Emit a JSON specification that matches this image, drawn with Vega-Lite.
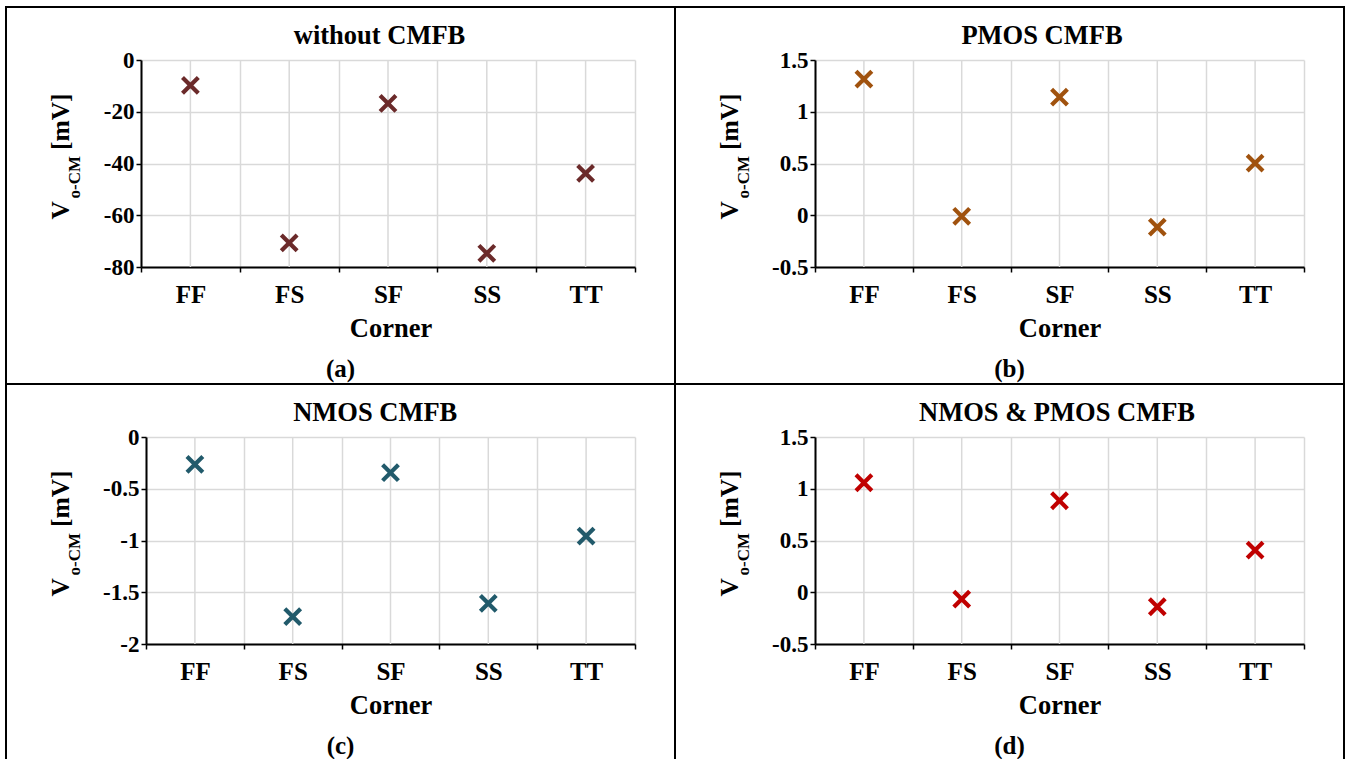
{
  "$schema": "https://vega.github.io/schema/vega-lite/v6.json",
  "background": "white",
  "padding": {"left": 5, "top": 6, "right": 0, "bottom": 0},
  "datasets": {
    "a": [
      {"corner": "FF", "v": -9.8},
      {"corner": "FS", "v": -70.7},
      {"corner": "SF", "v": -16.8},
      {"corner": "SS", "v": -74.7},
      {"corner": "TT", "v": -43.8}
    ],
    "b": [
      {"corner": "FF", "v": 1.315},
      {"corner": "FS", "v": -0.01},
      {"corner": "SF", "v": 1.142},
      {"corner": "SS", "v": -0.115},
      {"corner": "TT", "v": 0.503}
    ],
    "c": [
      {"corner": "FF", "v": -0.264},
      {"corner": "FS", "v": -1.735},
      {"corner": "SF", "v": -0.345},
      {"corner": "SS", "v": -1.607},
      {"corner": "TT", "v": -0.958}
    ],
    "d": [
      {"corner": "FF", "v": 1.058},
      {"corner": "FS", "v": -0.066},
      {"corner": "SF", "v": 0.884},
      {"corner": "SS", "v": -0.14},
      {"corner": "TT", "v": 0.407}
    ]
  },
  "concat": [
    {
      "width": 669, "height": 377,
      "title": {"text": "(a)"},
      "data": {"name": "a"},
      "layer": [
        {
          "mark": {"type": "rule", "color": "#d9d9d9", "strokeWidth": 1.5},
          "encoding": {
            "x": {"field": "corner", "type": "nominal",
              "scale": {"domain": ["FF", "FS", "SF", "SS", "TT"], "range": [135, 629], "paddingInner": 0, "paddingOuter": 0},
              "axis": {"orient": "top", "offset": -53, "grid": true, "tickBand": "extent", "labels": false, "ticks": false, "domain": false,
                "title": "without CMFB", "titleX": 373, "titleY": -17, "titleAlign": "center", "titleBaseline": "alphabetic", "titleAngle": 0, "titleFontSize": 26.5}},
            "y": {"datum": 0, "type": "quantitative",
              "scale": {"domain": [-80, 0], "range": [260, 53], "nice": false, "zero": false},
              "axis": {"orient": "left", "offset": -135, "grid": false, "labels": false, "ticks": false, "domain": false,
                "title": "o-CM", "titleX": -62, "titleY": 191, "titleAngle": -90, "titleAlign": "left", "titleBaseline": "alphabetic", "titleFontSize": 17}},
            "y2": {"datum": -80}
          }
        },
        {
          "mark": {"type": "point", "shape": "M-1,-1L1,1M-1,1L1,-1", "filled": false, "size": 250, "strokeWidth": 4.2, "opacity": 1, "color": "#6B2A2A"},
          "encoding": {
            "x": {"field": "corner", "type": "nominal",
              "scale": {"domain": ["FF", "FS", "SF", "SS", "TT"], "range": [135, 629], "paddingInner": 0, "paddingOuter": 0},
              "axis": {"orient": "bottom", "offset": -117, "grid": false, "tickBand": "extent", "labelFontSize": 25, "labelPadding": 30, "labelBaseline": "alphabetic", "labelAngle": 0,
                "title": "Corner", "titleX": 384.5, "titleY": 69, "titleAlign": "center", "titleBaseline": "alphabetic", "titleAngle": 0, "titleFontSize": 26.5}},
            "y": {"field": "v", "type": "quantitative",
              "scale": {"domain": [-80, 0], "range": [260, 53], "nice": false, "zero": false},
              "axis": {"orient": "left", "offset": -135, "grid": true, "values": [-80, -60, -40, -20, 0], "labelExpr": "toString(datum.value)", "labelFontSize": 23, "labelPadding": 2,
                "title": "V\u00a0\u00a0\u00a0\u00a0\u00a0\u00a0\u00a0\u00a0[mV]", "titleX": -73, "titleY": 212, "titleAngle": -90, "titleAlign": "left", "titleBaseline": "alphabetic", "titleFontSize": 25.5}}
          }
        }
      ],
      "resolve": {"axis": {"x": "independent", "y": "independent"}}
    },
    {
      "width": 669, "height": 377,
      "title": {"text": "(b)"},
      "data": {"name": "b"},
      "layer": [
        {
          "mark": {"type": "rule", "color": "#d9d9d9", "strokeWidth": 1.5},
          "encoding": {
            "x": {"field": "corner", "type": "nominal",
              "scale": {"domain": ["FF", "FS", "SF", "SS", "TT"], "range": [140, 629], "paddingInner": 0, "paddingOuter": 0},
              "axis": {"orient": "top", "offset": -53, "grid": true, "tickBand": "extent", "labels": false, "ticks": false, "domain": false,
                "title": "PMOS CMFB", "titleX": 366.5, "titleY": -17, "titleAlign": "center", "titleBaseline": "alphabetic", "titleAngle": 0, "titleFontSize": 26.5}},
            "y": {"datum": 1.5, "type": "quantitative",
              "scale": {"domain": [-0.5, 1.5], "range": [260, 53], "nice": false, "zero": false},
              "axis": {"orient": "left", "offset": -140, "grid": false, "labels": false, "ticks": false, "domain": false,
                "title": "o-CM", "titleX": -67, "titleY": 191, "titleAngle": -90, "titleAlign": "left", "titleBaseline": "alphabetic", "titleFontSize": 17}},
            "y2": {"datum": -0.5}
          }
        },
        {
          "mark": {"type": "point", "shape": "M-1,-1L1,1M-1,1L1,-1", "filled": false, "size": 250, "strokeWidth": 4.2, "opacity": 1, "color": "#A0520E"},
          "encoding": {
            "x": {"field": "corner", "type": "nominal",
              "scale": {"domain": ["FF", "FS", "SF", "SS", "TT"], "range": [140, 629], "paddingInner": 0, "paddingOuter": 0},
              "axis": {"orient": "bottom", "offset": -117, "grid": false, "tickBand": "extent", "labelFontSize": 25, "labelPadding": 30, "labelBaseline": "alphabetic", "labelAngle": 0,
                "title": "Corner", "titleX": 384.5, "titleY": 69, "titleAlign": "center", "titleBaseline": "alphabetic", "titleAngle": 0, "titleFontSize": 26.5}},
            "y": {"field": "v", "type": "quantitative",
              "scale": {"domain": [-0.5, 1.5], "range": [260, 53], "nice": false, "zero": false},
              "axis": {"orient": "left", "offset": -140, "grid": true, "values": [-0.5, 0, 0.5, 1, 1.5], "labelExpr": "toString(datum.value)", "labelFontSize": 23, "labelPadding": 2,
                "title": "V\u00a0\u00a0\u00a0\u00a0\u00a0\u00a0\u00a0\u00a0[mV]", "titleX": -78, "titleY": 212, "titleAngle": -90, "titleAlign": "left", "titleBaseline": "alphabetic", "titleFontSize": 25.5}}
          }
        }
      ],
      "resolve": {"axis": {"x": "independent", "y": "independent"}}
    },
    {
      "width": 669, "height": 377,
      "title": {"text": "(c)"},
      "data": {"name": "c"},
      "layer": [
        {
          "mark": {"type": "rule", "color": "#d9d9d9", "strokeWidth": 1.5},
          "encoding": {
            "x": {"field": "corner", "type": "nominal",
              "scale": {"domain": ["FF", "FS", "SF", "SS", "TT"], "range": [140, 629], "paddingInner": 0, "paddingOuter": 0},
              "axis": {"orient": "top", "offset": -53, "grid": true, "tickBand": "extent", "labels": false, "ticks": false, "domain": false,
                "title": "NMOS CMFB", "titleX": 368.7, "titleY": -17, "titleAlign": "center", "titleBaseline": "alphabetic", "titleAngle": 0, "titleFontSize": 26.5}},
            "y": {"datum": 0, "type": "quantitative",
              "scale": {"domain": [-2, 0], "range": [260, 53], "nice": false, "zero": false},
              "axis": {"orient": "left", "offset": -140, "grid": false, "labels": false, "ticks": false, "domain": false,
                "title": "o-CM", "titleX": -67, "titleY": 191, "titleAngle": -90, "titleAlign": "left", "titleBaseline": "alphabetic", "titleFontSize": 17}},
            "y2": {"datum": -2}
          }
        },
        {
          "mark": {"type": "point", "shape": "M-1,-1L1,1M-1,1L1,-1", "filled": false, "size": 250, "strokeWidth": 4.2, "opacity": 1, "color": "#215A6B"},
          "encoding": {
            "x": {"field": "corner", "type": "nominal",
              "scale": {"domain": ["FF", "FS", "SF", "SS", "TT"], "range": [140, 629], "paddingInner": 0, "paddingOuter": 0},
              "axis": {"orient": "bottom", "offset": -117, "grid": false, "tickBand": "extent", "labelFontSize": 25, "labelPadding": 30, "labelBaseline": "alphabetic", "labelAngle": 0,
                "title": "Corner", "titleX": 384.5, "titleY": 69, "titleAlign": "center", "titleBaseline": "alphabetic", "titleAngle": 0, "titleFontSize": 26.5}},
            "y": {"field": "v", "type": "quantitative",
              "scale": {"domain": [-2, 0], "range": [260, 53], "nice": false, "zero": false},
              "axis": {"orient": "left", "offset": -140, "grid": true, "values": [-2, -1.5, -1, -0.5, 0], "labelExpr": "toString(datum.value)", "labelFontSize": 23, "labelPadding": 2,
                "title": "V\u00a0\u00a0\u00a0\u00a0\u00a0\u00a0\u00a0\u00a0[mV]", "titleX": -78, "titleY": 212, "titleAngle": -90, "titleAlign": "left", "titleBaseline": "alphabetic", "titleFontSize": 25.5}}
          }
        }
      ],
      "resolve": {"axis": {"x": "independent", "y": "independent"}}
    },
    {
      "width": 669, "height": 377,
      "title": {"text": "(d)"},
      "data": {"name": "d"},
      "layer": [
        {
          "mark": {"type": "rule", "color": "#d9d9d9", "strokeWidth": 1.5},
          "encoding": {
            "x": {"field": "corner", "type": "nominal",
              "scale": {"domain": ["FF", "FS", "SF", "SS", "TT"], "range": [140, 629], "paddingInner": 0, "paddingOuter": 0},
              "axis": {"orient": "top", "offset": -53, "grid": true, "tickBand": "extent", "labels": false, "ticks": false, "domain": false,
                "title": "NMOS & PMOS CMFB", "titleX": 381.5, "titleY": -17, "titleAlign": "center", "titleBaseline": "alphabetic", "titleAngle": 0, "titleFontSize": 26.5}},
            "y": {"datum": 1.5, "type": "quantitative",
              "scale": {"domain": [-0.5, 1.5], "range": [260, 53], "nice": false, "zero": false},
              "axis": {"orient": "left", "offset": -140, "grid": false, "labels": false, "ticks": false, "domain": false,
                "title": "o-CM", "titleX": -67, "titleY": 191, "titleAngle": -90, "titleAlign": "left", "titleBaseline": "alphabetic", "titleFontSize": 17}},
            "y2": {"datum": -0.5}
          }
        },
        {
          "mark": {"type": "point", "shape": "M-1,-1L1,1M-1,1L1,-1", "filled": false, "size": 250, "strokeWidth": 4.2, "opacity": 1, "color": "#C00000"},
          "encoding": {
            "x": {"field": "corner", "type": "nominal",
              "scale": {"domain": ["FF", "FS", "SF", "SS", "TT"], "range": [140, 629], "paddingInner": 0, "paddingOuter": 0},
              "axis": {"orient": "bottom", "offset": -117, "grid": false, "tickBand": "extent", "labelFontSize": 25, "labelPadding": 30, "labelBaseline": "alphabetic", "labelAngle": 0,
                "title": "Corner", "titleX": 384.5, "titleY": 69, "titleAlign": "center", "titleBaseline": "alphabetic", "titleAngle": 0, "titleFontSize": 26.5}},
            "y": {"field": "v", "type": "quantitative",
              "scale": {"domain": [-0.5, 1.5], "range": [260, 53], "nice": false, "zero": false},
              "axis": {"orient": "left", "offset": -140, "grid": true, "values": [-0.5, 0, 0.5, 1, 1.5], "labelExpr": "toString(datum.value)", "labelFontSize": 23, "labelPadding": 2,
                "title": "V\u00a0\u00a0\u00a0\u00a0\u00a0\u00a0\u00a0\u00a0[mV]", "titleX": -78, "titleY": 212, "titleAngle": -90, "titleAlign": "left", "titleBaseline": "alphabetic", "titleFontSize": 25.5}}
          }
        }
      ],
      "resolve": {"axis": {"x": "independent", "y": "independent"}}
    }
  ],
  "columns": 2,
  "spacing": 0,
  "bounds": "flush",
  "config": {
    "font": "Liberation Serif",
    "view": {"stroke": "black", "strokeWidth": 2},
    "title": {"orient": "bottom", "offset": -27, "baseline": "alphabetic", "anchor": "middle", "frame": "group", "fontSize": 25, "fontWeight": "bold", "font": "Liberation Serif", "color": "black"},
    "axis": {
      "labelFont": "Liberation Serif", "labelFontWeight": "bold", "labelColor": "black",
      "titleFont": "Liberation Serif", "titleFontWeight": "bold", "titleColor": "black",
      "domainColor": "black", "domainWidth": 2,
      "tickColor": "black", "tickWidth": 1.5, "tickSize": 5,
      "gridColor": "#d9d9d9", "gridWidth": 1.5
    }
  }
}
